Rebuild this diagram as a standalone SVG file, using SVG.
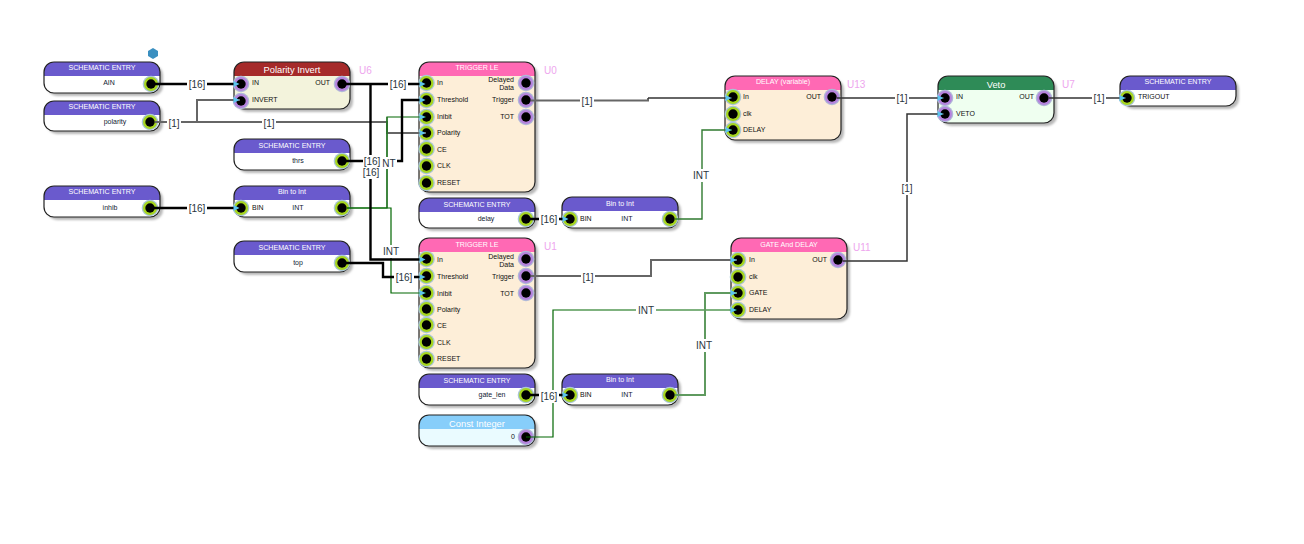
<svg xmlns="http://www.w3.org/2000/svg" width="1304" height="544" viewBox="0 0 1304 544">
<style>
text{font-family:"Liberation Sans",Arial,sans-serif}
.sh{fill:#b8b8b8;filter:url(#b)}
.out{fill:none;stroke:#222;stroke-width:1.2}
.ti{fill:#fff;font-size:7.100px;text-anchor:middle}
.tb{fill:#fff;font-size:9.300px;text-anchor:middle}
.pl{fill:#111;font-size:7px}
.pr{fill:#111;font-size:7px;text-anchor:end}
.pc{fill:#123;font-size:7px;text-anchor:middle}
.u{fill:#eea6ee;font-size:10px}
.w{fill:#fff}
.c{fill:#fff}
.lab{fill:#2a3540;font-size:10px;text-anchor:middle}
.bus{fill:none;stroke:#000;stroke-width:2.400}
.bit{fill:none;stroke:#666;stroke-width:2}
.thin{fill:none;stroke:#333;stroke-width:1.300}
.int{fill:none;stroke:#060;stroke-width:1.200}
.intm{fill:none;stroke:#2f7a2f;stroke-width:1.400}
.intb{fill:none;stroke:#5f9a5f;stroke-width:2}
.arr{marker-end:url(#a)}
</style>
<defs>
<filter id="b" x="-10%" y="-10%" width="120%" height="120%"><feGaussianBlur stdDeviation="0.800"/></filter>
<marker id="a" markerUnits="userSpaceOnUse" markerWidth="7" markerHeight="7" refX="7" refY="3.500" orient="auto"><path d="M0.500,0.600L6.500,3.500L0.500,6.400Z" fill="#5cc4ee"/></marker>
<path id="h" d="M0,14V10A10,10 0 0 1 10,0H106A10,10 0 0 1 116,10V14Z"/>
<g id="g"><circle r="8.300" fill="#a9c6d6"/><circle r="7" fill="#a6d51e"/><circle r="4.700" fill="#000"/></g>
<g id="p"><circle r="8.300" fill="#b0b8d8"/><circle r="7" fill="#b583dd"/><circle r="4.700" fill="#000"/></g>
</defs>

<path d="M148,53l5,-3 5,3v5l-5,3 -5,-3z" fill="#3a8fc0" transform="translate(0,-2)"/>

<g id="AIN" transform="translate(44,62)"><rect class="sh" x="3" y="3" width="116" height="31" rx="10"/><rect class="w" width="116" height="31" rx="10"/><use href="#h" y="0" fill="#6a5acd"/><rect class="out" width="116" height="31" rx="10"/><text class="ti" x="58" y="8">SCHEMATIC ENTRY</text><text class="pc" x="65" y="23">AIN</text><use href="#g" x="107" y="22"/></g>
<g id="polarity" transform="translate(44,101)"><rect class="sh" x="3" y="3" width="116" height="30" rx="10"/><rect class="w" width="116" height="30" rx="10"/><use href="#h" fill="#6a5acd"/><rect class="out" width="116" height="30" rx="10"/><text class="ti" x="58" y="8">SCHEMATIC ENTRY</text><text class="pc" x="71" y="23">polarity</text><use href="#g" x="106" y="21"/></g>
<g id="thrs" transform="translate(234,139)"><rect class="sh" x="3" y="3" width="116" height="31" rx="10"/><rect class="w" width="116" height="31" rx="10"/><use href="#h" fill="#6a5acd"/><rect class="out" width="116" height="31" rx="10"/><text class="ti" x="58" y="9">SCHEMATIC ENTRY</text><text class="pc" x="64" y="23.500">thrs</text><use href="#g" x="108" y="22"/></g>
<g id="inhib" transform="translate(44,186)"><rect class="sh" x="3" y="3" width="116" height="31" rx="10"/><rect class="w" width="116" height="31" rx="10"/><use href="#h" fill="#6a5acd"/><rect class="out" width="116" height="31" rx="10"/><text class="ti" x="58" y="7.500">SCHEMATIC ENTRY</text><text class="pc" x="66" y="24">inhib</text><use href="#g" x="106" y="22"/></g>
<g id="top" transform="translate(234,241)"><rect class="sh" x="3" y="3" width="116" height="31" rx="10"/><rect class="w" width="116" height="31" rx="10"/><use href="#h" fill="#6a5acd"/><rect class="out" width="116" height="31" rx="10"/><text class="ti" x="58" y="9">SCHEMATIC ENTRY</text><text class="pc" x="64" y="24">top</text><use href="#g" x="108" y="22"/></g>
<g id="BinInhib" transform="translate(234,186)"><rect class="sh" x="3" y="3" width="116" height="31" rx="10"/><rect class="w" width="116" height="31" rx="10"/><use href="#h" fill="#6a5acd"/><rect class="out" width="116" height="31" rx="10"/><text class="ti" x="58" y="7.500">Bin to Int</text><text class="pl" x="18" y="23.500">BIN</text><text class="pc" x="64" y="23.500">INT</text><use href="#g" x="7" y="22"/><use href="#g" x="108" y="22"/></g>
<g id="U6" transform="translate(234,62)"><rect class="sh" x="3" y="3" width="116" height="47" rx="10"/><rect fill="#f3f3dc" width="116" height="47" rx="10"/><use href="#h" fill="#a52a2a"/><rect class="out" width="116" height="47" rx="10"/><text class="tb" x="58" y="11">Polarity Invert</text><text class="pl" x="18" y="23">IN</text><text class="pl" x="18" y="40">INVERT</text><text class="pr" x="96" y="23">OUT</text><use href="#p" x="7" y="22"/><use href="#p" x="7" y="39"/><use href="#p" x="108" y="22"/><text class="u" x="125" y="12">U6</text></g>
<g id="U0" transform="translate(419,62)"><rect class="sh" x="3" y="3" width="116" height="130" rx="10"/><rect fill="#fdeed8" width="116" height="130" rx="10"/><use href="#h" fill="#ff69b4"/><rect class="out" width="116" height="130" rx="10"/><text class="ti" x="58" y="8">TRIGGER LE</text><text class="pl" x="18" y="23">In</text><text class="pl" x="18" y="40">Threshold</text><text class="pl" x="18" y="57">Inibit</text><text class="pl" x="18" y="73">Polarity</text><text class="pl" x="18" y="90">CE</text><text class="pl" x="18" y="106">CLK</text><text class="pl" x="18" y="123">RESET</text><text class="pr" x="95" y="20">Delayed</text><text class="pr" x="95" y="28">Data</text><text class="pr" x="95" y="40">Trigger</text><text class="pr" x="95" y="57">TOT</text><use href="#g" x="7.500" y="21"/><use href="#g" x="7.500" y="38"/><use href="#g" x="7.500" y="55"/><use href="#g" x="7.500" y="71"/><use href="#g" x="7.500" y="87"/><use href="#g" x="7.500" y="104"/><use href="#g" x="7.500" y="121"/><use href="#p" x="107" y="21"/><use href="#p" x="107" y="38"/><use href="#p" x="107" y="55"/><text class="u" x="125" y="12">U0</text></g>
<g id="delay" transform="translate(419,198)"><rect class="sh" x="3" y="3" width="116" height="30" rx="10"/><rect class="w" width="116" height="30" rx="10"/><use href="#h" fill="#6a5acd"/><rect class="out" width="116" height="30" rx="10"/><text class="ti" x="58" y="9">SCHEMATIC ENTRY</text><text class="pc" x="67" y="22.500">delay</text><use href="#g" x="107" y="21"/></g>
<g id="U1" transform="translate(419,238)"><rect class="sh" x="3" y="3" width="116" height="130" rx="10"/><rect fill="#fdeed8" width="116" height="130" rx="10"/><use href="#h" fill="#ff69b4"/><rect class="out" width="116" height="130" rx="10"/><text class="ti" x="58" y="8.500">TRIGGER LE</text><text class="pl" x="18" y="23.500">In</text><text class="pl" x="18" y="40.500">Threshold</text><text class="pl" x="18" y="57.500">Inibit</text><text class="pl" x="18" y="73.500">Polarity</text><text class="pl" x="18" y="90">CE</text><text class="pl" x="18" y="106.500">CLK</text><text class="pl" x="18" y="123">RESET</text><text class="pr" x="95" y="20.500">Delayed</text><text class="pr" x="95" y="28.500">Data</text><text class="pr" x="95" y="40.500">Trigger</text><text class="pr" x="95" y="57.500">TOT</text><use href="#g" x="7.500" y="21"/><use href="#g" x="7.500" y="38"/><use href="#g" x="7.500" y="55"/><use href="#g" x="7.500" y="71"/><use href="#g" x="7.500" y="87"/><use href="#g" x="7.500" y="104"/><use href="#g" x="7.500" y="121"/><use href="#p" x="107" y="21"/><use href="#p" x="107" y="38"/><use href="#p" x="107" y="55"/><text class="u" x="125" y="12">U1</text></g>
<g id="gate_len" transform="translate(419,374)"><rect class="sh" x="3" y="3" width="116" height="31" rx="10"/><rect class="w" width="116" height="31" rx="10"/><use href="#h" fill="#6a5acd"/><rect class="out" width="116" height="31" rx="10"/><text class="ti" x="58" y="8.500">SCHEMATIC ENTRY</text><text class="pc" x="73" y="23">gate_len</text><use href="#g" x="107" y="21"/></g>
<g id="Const" transform="translate(419,415)"><rect class="sh" x="3" y="3" width="116" height="31" rx="10"/><rect fill="#eafbff" width="116" height="31" rx="10"/><use href="#h" fill="#87cefa"/><rect class="out" width="116" height="31" rx="10"/><text class="tb" x="58" y="11.500">Const Integer</text><text class="pr" x="96" y="24">0</text><use href="#p" x="107" y="22"/></g>
<g id="BinDelay" transform="translate(562,197)"><rect class="sh" x="3" y="3" width="116" height="31" rx="10"/><rect class="w" width="116" height="31" rx="10"/><use href="#h" fill="#6a5acd"/><rect class="out" width="116" height="31" rx="10"/><text class="ti" x="58" y="8.500">Bin to Int</text><text class="pl" x="18" y="23.500">BIN</text><text class="pc" x="65" y="23.500">INT</text><use href="#g" x="8" y="22"/><use href="#g" x="108" y="22"/></g>
<g id="BinGate" transform="translate(562,374)"><rect class="sh" x="3" y="3" width="116" height="31" rx="10"/><rect class="w" width="116" height="31" rx="10"/><use href="#h" fill="#6a5acd"/><rect class="out" width="116" height="31" rx="10"/><text class="ti" x="58" y="7.500">Bin to Int</text><text class="pl" x="18" y="22.500">BIN</text><text class="pc" x="65" y="22.500">INT</text><use href="#g" x="8" y="21"/><use href="#g" x="108" y="21"/></g>
<g id="U13" transform="translate(725,76)"><rect class="sh" x="3" y="3" width="116" height="64" rx="10"/><rect fill="#fdeed8" width="116" height="64" rx="10"/><use href="#h" fill="#ff69b4"/><rect class="out" width="116" height="64" rx="10"/><text class="ti" x="58" y="8">DELAY (variable)</text><text class="pl" x="18" y="23">In</text><text class="pl" x="18" y="39.500">clk</text><text class="pl" x="18" y="55.500">DELAY</text><text class="pr" x="96" y="23">OUT</text><use href="#g" x="8" y="21"/><use href="#g" x="8" y="38"/><use href="#g" x="8" y="54"/><use href="#p" x="107" y="21"/><text class="u" x="122" y="11.500">U13</text></g>
<g id="U11" transform="translate(731,238)"><rect class="sh" x="3" y="3" width="116" height="81" rx="10"/><rect fill="#fdeed8" width="116" height="81" rx="10"/><use href="#h" fill="#ff69b4"/><rect class="out" width="116" height="81" rx="10"/><text class="ti" x="58" y="8.500">GATE And DELAY</text><text class="pl" x="18" y="23.500">In</text><text class="pl" x="18" y="40.500">clk</text><text class="pl" x="18" y="57">GATE</text><text class="pl" x="18" y="74">DELAY</text><text class="pr" x="96" y="23.500">OUT</text><use href="#g" x="7" y="22"/><use href="#g" x="7" y="39"/><use href="#g" x="7" y="55"/><use href="#g" x="7" y="72"/><use href="#p" x="107" y="22"/><text class="u" x="122" y="12.500">U11</text></g>
<g id="U7" transform="translate(938,76)"><rect class="sh" x="3" y="3" width="116" height="47" rx="10"/><rect fill="#effff0" width="116" height="47" rx="10"/><use href="#h" fill="#2e8b57"/><rect class="out" width="116" height="47" rx="10"/><text class="tb" x="58" y="11.500">Veto</text><text class="pl" x="18" y="22.500">IN</text><text class="pl" x="18" y="39.500">VETO</text><text class="pr" x="96" y="22.500">OUT</text><use href="#p" x="7" y="22"/><use href="#p" x="7" y="38"/><use href="#p" x="106" y="22"/><text class="u" x="124" y="11.500">U7</text></g>
<g id="TRIGOUT" transform="translate(1120,76)"><rect class="sh" x="3" y="3" width="116" height="30" rx="10"/><rect class="w" width="116" height="30" rx="10"/><use href="#h" fill="#6a5acd"/><rect class="out" width="116" height="30" rx="10"/><text class="ti" x="58" y="8">SCHEMATIC ENTRY</text><text class="pl" x="18" y="23">TRIGOUT</text><use href="#g" x="7" y="22"/></g>

<g id="connectors">
<path class="bit arr" d="M155,122H197V100H240"/>
<path class="bit arr" d="M155,122H387V133H426"/>
<path class="int arr" d="M347,208H387V117H426"/>
<path class="intm" d="M387,117V208"/>
<path class="int arr" d="M347,208H391V293H426"/>
<path class="bus arr" d="M151,84H240"/>
<path class="bus arr" d="M342,84H426"/>
<path class="bus arr" d="M370.500,84V259.500H426"/>
<path class="bus arr" d="M342,161H402V100H426"/>
<path class="bus arr" d="M342,263H383V277H426"/>
<path class="bus arr" d="M150,208H240"/>
<path class="bus arr" d="M526,219H569"/>
<path class="bus arr" d="M526,395H569"/>
<path class="bit" d="M531,100.500H648V98"/>
<path class="thin arr" d="M648,98H732"/>
<path class="thin arr" d="M837,98H944"/>
<path class="intm arr" d="M675,219H702V130H732"/>
<path class="bit arr" d="M531,276H651V260H737"/>
<path class="int arr" d="M526,437H553V310H737"/>
<path class="intb arr" d="M675,395H705V293H737"/>
<path class="thin arr" style="stroke-width:1.500" d="M843,261H907V114H944"/>
<path class="thin arr" d="M1049,98H1126"/>
<g>
<rect class="c" x="187" y="78" width="20" height="14"/><text class="lab" x="197" y="88">[16]</text>
<rect class="c" x="167" y="116" width="14" height="14"/><text class="lab" x="174" y="127">[1]</text>
<rect class="c" x="262" y="116" width="14" height="14"/><text class="lab" x="269" y="127">[1]</text>
<rect class="c" x="388" y="78" width="20" height="14"/><text class="lab" x="398" y="88">[16]</text>
<rect class="c" x="187" y="201" width="20" height="14"/><text class="lab" x="197" y="212">[16]</text>
<rect class="c" x="379" y="157" width="18" height="12"/><text class="lab" x="387.500" y="167">INT</text>
<rect class="c" x="363" y="155" width="19" height="12"/><text class="lab" x="372" y="165">[16]</text>
<rect class="c" x="362" y="167" width="18" height="12"/><text class="lab" x="371" y="176">[16]</text>
<rect class="c" x="382" y="245" width="18" height="13"/><text class="lab" x="391" y="255">INT</text>
<rect class="c" x="394" y="271" width="20" height="13"/><text class="lab" x="404" y="281">[16]</text>
<rect class="c" x="539" y="213" width="20" height="13"/><text class="lab" x="549" y="223">[16]</text>
<rect class="c" x="539" y="390" width="20" height="13"/><text class="lab" x="549" y="400">[16]</text>
<rect class="c" x="580" y="95" width="14" height="13"/><text class="lab" x="587" y="105">[1]</text>
<rect class="c" x="581" y="271" width="14" height="13"/><text class="lab" x="588" y="281">[1]</text>
<rect class="c" x="895" y="92" width="14" height="13"/><text class="lab" x="902" y="102">[1]</text>
<rect class="c" x="1092" y="92" width="14" height="13"/><text class="lab" x="1099" y="102">[1]</text>
<rect class="c" x="900" y="182" width="14" height="13"/><text class="lab" x="907" y="192">[1]</text>
<rect class="c" x="692" y="169" width="18" height="13"/><text class="lab" x="701" y="179">INT</text>
<rect class="c" x="636" y="304" width="20" height="13"/><text class="lab" x="646" y="314">INT</text>
<rect class="c" x="695" y="339" width="18" height="13"/><text class="lab" x="704" y="349">INT</text>
</g>
</g>
</svg>
